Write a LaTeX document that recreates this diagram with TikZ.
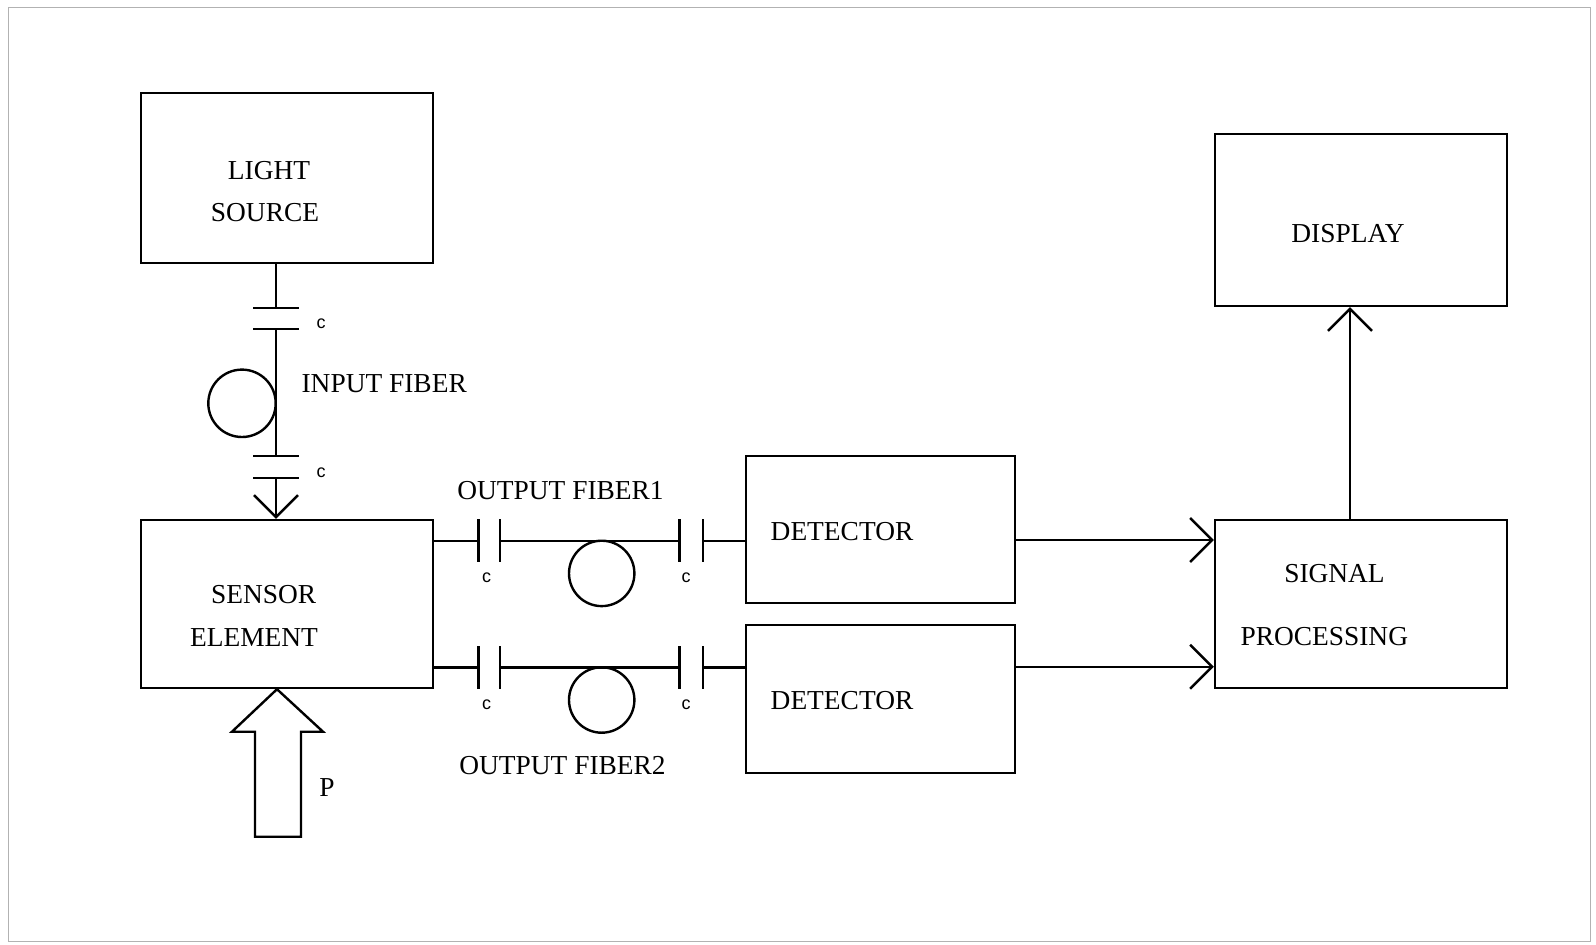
\documentclass[tikz,border=0pt]{standalone}
\usepackage{fontspec}
\setmainfont{Liberation Serif}
\newfontfamily\capfont{Liberation Sans}
\usetikzlibrary{arrows.meta}
\begin{document}
\begin{tikzpicture}[x=0.5pt,y=-0.5pt, line width=1.2pt,
  box/.style={draw, rectangle, inner sep=0pt},
  lbl/.style={anchor=base, inner sep=0pt, font=\fontsize{13.7}{16}\selectfont},
  clbl/.style={anchor=base, inner sep=0pt, font=\capfont\fontsize{9}{10}\selectfont},
  arr/.style={-{Straight Barb[length=11pt,width=22pt,line width=1.2pt]}},
  plate/.style={line width=1.2pt}
]
\useasboundingbox (0,0) rectangle (1596,944);
\draw[gray!60, line width=0.5pt] (8,7) rectangle (1590,941);

% boxes
\node[box, minimum width=146pt, minimum height=85pt] (ls) at (287,178) {};
\node[box, minimum width=146pt, minimum height=84pt] (se) at (287,604) {};
\node[box, minimum width=134.5pt, minimum height=73.5pt] (d1) at (880.5,529.5) {};
\node[box, minimum width=134.5pt, minimum height=74pt] (d2) at (880.5,699) {};
\node[box, minimum width=146pt, minimum height=84pt] (sp) at (1361,604) {};
\node[box, minimum width=146pt, minimum height=86pt] (di) at (1361,220) {};

% box texts
\node[lbl] (t1) at (269,179) {LIGHT};
\node[lbl] (t2) at (265,221.5) {SOURCE};
\node[lbl] (t3) at (1348,242) {DISPLAY};
\node[lbl] (t4) at (263.6,603.5) {SENSOR};
\node[lbl] (t5) at (254,646) {ELEMENT};
\node[lbl] (t6) at (842,540.4) {DETECTOR};
\node[lbl] (t7) at (842,709.3) {DETECTOR};
\node[lbl] (t8) at (1334.5,582) {SIGNAL};
\node[lbl] (t9) at (1324.3,645) {PROCESSING};
\node[lbl] (t10) at (384.2,392.3) {INPUT FIBER};
\node[lbl] (t11) at (560.5,499) {OUTPUT FIBER1};
\node[lbl] (t12) at (562.5,774) {OUTPUT FIBER2};
\node[lbl] (t13) at (327,796) {P};

% c labels
\node[clbl] (c1) at (321,328) {c};
\node[clbl] (c2) at (321,477) {c};
\node[clbl] (c3) at (486.7,582) {c};
\node[clbl] (c4) at (686,582) {c};
\node[clbl] (c5) at (486.7,709) {c};
\node[clbl] (c6) at (686,709) {c};

% input fiber
\coordinate (v1a) at (276,307.7);
\coordinate (v1b) at (276,329);
\coordinate (v2a) at (276,456);
\coordinate (v2b) at (276,478);
\draw (ls.south -| v1a) -- (v1a);
\draw (v1b) -- (v2a);
\draw[arr] (v2b) -- (se.north -| v2b);
\draw[plate] (253,307.7) -- (299,307.7);
\draw[plate] (253,329) -- (299,329);
\draw[plate] (253,456) -- (299,456);
\draw[plate] (253,478) -- (299,478);
\draw (242,403.3) circle (33.7);

% output fiber 1
\coordinate (h1a) at (478.3,540.7);
\coordinate (h1b) at (500,540.7);
\coordinate (h1c) at (679.3,540.7);
\coordinate (h1d) at (702.7,540.7);
\draw (se.east |- h1a) -- (h1a);
\draw (h1b) -- (h1c);
\draw (h1d) -- (d1.west |- h1d);
\draw[plate] (478.3,519) -- (478.3,562);
\draw[plate] (500,519) -- (500,562);
\draw[plate] (679.3,519) -- (679.3,562);
\draw[plate] (702.7,519) -- (702.7,562);
\draw (601.7,573.4) circle (32.7);

% output fiber 2
\coordinate (h2a) at (478.3,667.3);
\coordinate (h2b) at (500,667.3);
\coordinate (h2c) at (679.3,667.3);
\coordinate (h2d) at (702.7,667.3);
\draw (se.east |- h2a) -- (h2a);
\draw (h2b) -- (h2c);
\draw (h2d) -- (d2.west |- h2d);
\draw[plate] (478.3,646) -- (478.3,689);
\draw[plate] (500,646) -- (500,689);
\draw[plate] (679.3,646) -- (679.3,689);
\draw[plate] (702.7,646) -- (702.7,689);
\draw (601.7,700) circle (32.7);

% detector -> signal processing
\coordinate (a1) at (0,540);
\coordinate (a2) at (0,666.7);
\draw[arr] (d1.east |- a1) -- (sp.west |- a1);
\draw[arr] (d2.east |- a2) -- (sp.west |- a2);

% signal processing -> display
\coordinate (dx) at (1350,0);
\draw[arr] (sp.north -| dx) -- (di.south -| dx);

% pressure arrow
\coordinate (pa) at (277,0);
\draw[line join=miter] (se.south -| pa) -- (323,731.7) -- (301,731.7) -- (301,836.7)
  -- (255,836.7) -- (255,731.7) -- (232,731.7) -- cycle;
\end{tikzpicture}
\end{document}
